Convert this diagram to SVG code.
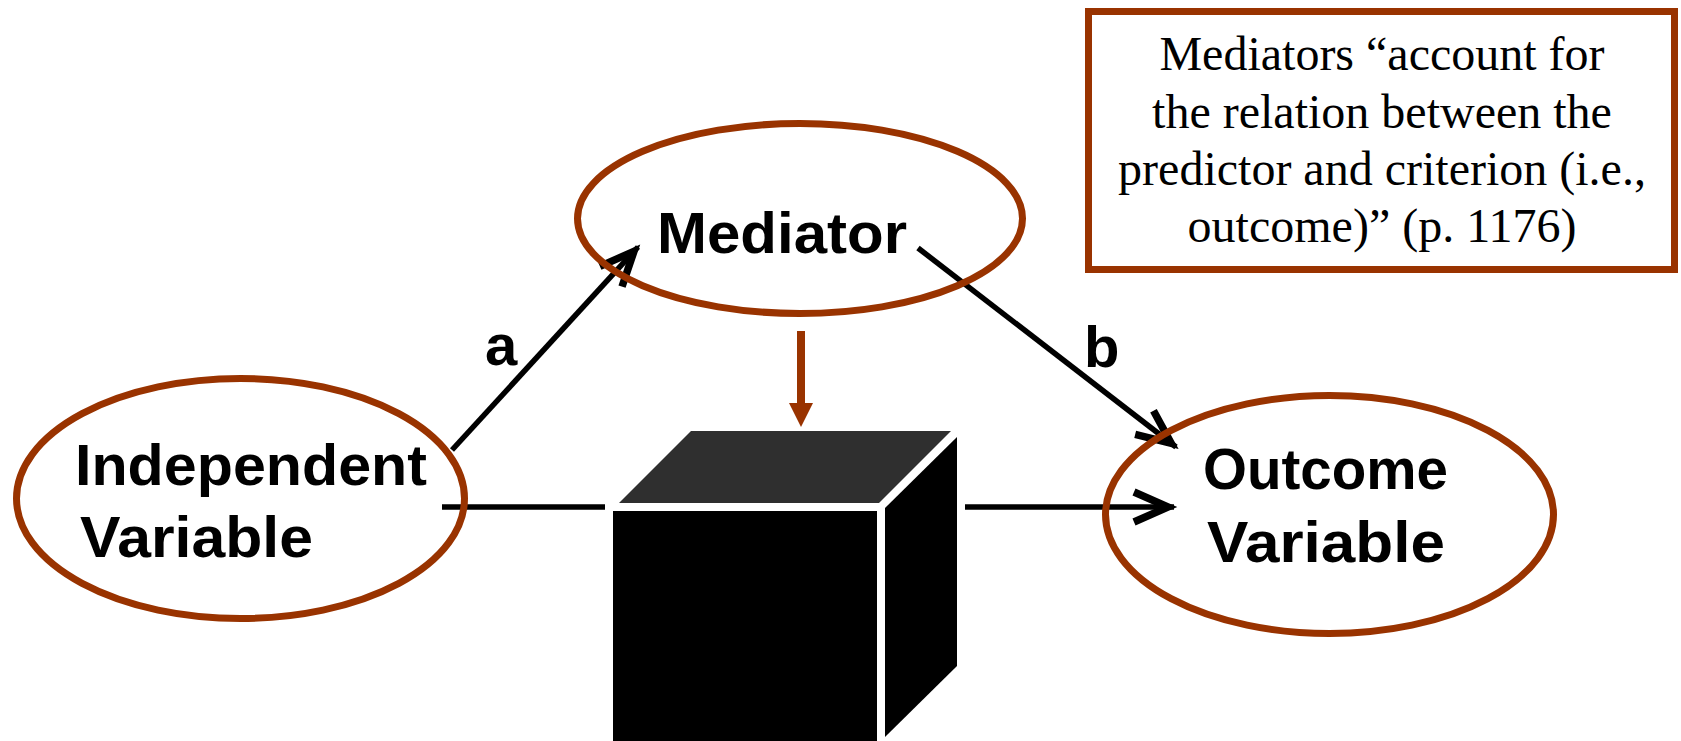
<svg xmlns="http://www.w3.org/2000/svg" width="1681" height="741" viewBox="0 0 1681 741">
  <defs>
    <style>
      .oval { fill: none; stroke: #993300; stroke-width: 7; }
      .lbl { font-family: "Liberation Sans", Arial, sans-serif; font-weight: bold; font-size: 58px; fill: #000; }
      .quote { font-family: "Liberation Serif", "Times New Roman", serif; font-size: 48px; fill: #000; text-anchor: middle; }
      .conn { fill: none; stroke: #000; stroke-width: 5.5; }
    </style>
    <marker id="chev" markerUnits="userSpaceOnUse" markerWidth="60" markerHeight="60" viewBox="-50 -30 60 60" refX="6" refY="0" orient="auto" overflow="visible">
      <path d="M-34,-15 L0,0 L-34,15" fill="none" stroke="#000" stroke-width="7.5" stroke-linejoin="miter" stroke-miterlimit="10"/>
    </marker>
  </defs>
  <rect width="1681" height="741" fill="#fff"/>

  <g id="connectors">
    <line class="conn" x1="452" y1="450" x2="638" y2="247" marker-end="url(#chev)"/>
    <line class="conn" x1="918" y1="248" x2="1176" y2="447" marker-end="url(#chev)"/>
    <line class="conn" x1="442" y1="507" x2="605" y2="507"/>
    <line class="conn" x1="965" y1="507" x2="1174" y2="507" marker-end="url(#chev)"/>
    <text class="lbl" x="485" y="365">a</text>
    <text class="lbl" x="1084" y="367">b</text>
    <g id="brown-arrow">
      <rect x="797" y="331" width="8" height="73" fill="#993300"/>
      <polygon points="789,403 813,403 801,427" fill="#993300"/>
    </g>
  </g>

  <g id="independent">
    <ellipse class="oval" cx="240.5" cy="498.5" rx="224" ry="120"/>
    <text class="lbl" x="75" y="485" textLength="352" lengthAdjust="spacingAndGlyphs">Independent</text>
    <text class="lbl" x="80" y="557" textLength="233" lengthAdjust="spacingAndGlyphs">Variable</text>
  </g>

  <g id="mediator">
    <ellipse class="oval" cx="800" cy="218.5" rx="222.5" ry="95"/>
    <text class="lbl" x="657" y="253" textLength="250" lengthAdjust="spacingAndGlyphs">Mediator</text>
  </g>

  <g id="outcome">
    <ellipse class="oval" cx="1329.5" cy="514.5" rx="224" ry="119"/>
    <text class="lbl" x="1203" y="489" textLength="245" lengthAdjust="spacingAndGlyphs">Outcome</text>
    <text class="lbl" x="1207" y="562" textLength="238" lengthAdjust="spacingAndGlyphs">Variable</text>
  </g>

  <g id="black-box">
    <polygon points="619,503 691,431 951,431 879,503" fill="#2f2f2f"/>
    <rect x="613" y="511" width="264" height="230" fill="#000"/>
    <polygon points="885,508 957,437 957,666 885,737" fill="#000"/>
  </g>

  <g id="quote-box">
    <rect x="1088.5" y="11.5" width="586" height="258" fill="#fff" stroke="#993300" stroke-width="7"/>
    <text class="quote" x="1382" y="70">Mediators “account for</text>
    <text class="quote" x="1382" y="128">the relation between the</text>
    <text class="quote" x="1382" y="185">predictor and criterion (i.e.,</text>
    <text class="quote" x="1382" y="242">outcome)” (p. 1176)</text>
  </g>
</svg>
